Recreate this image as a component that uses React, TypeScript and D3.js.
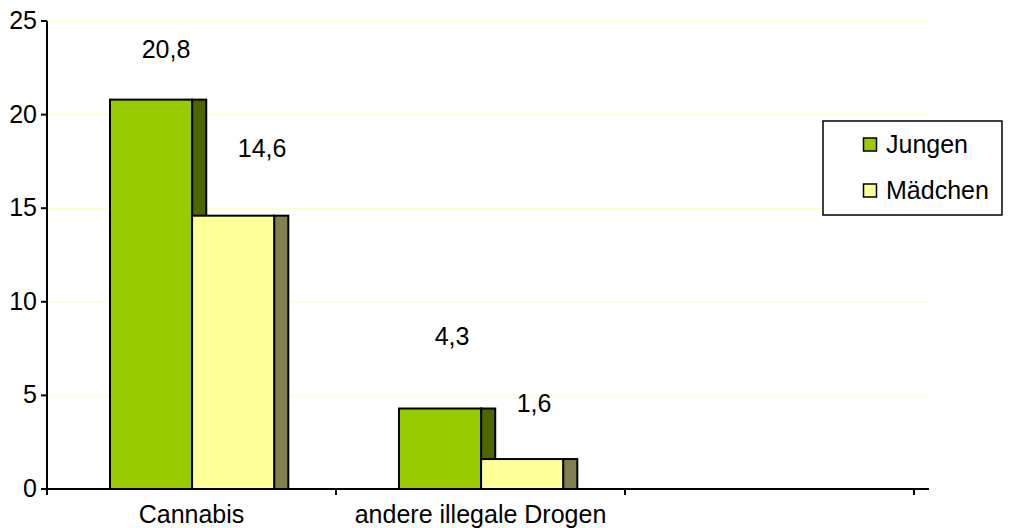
import React from "react";
import * as d3 from "d3";

// Lifetime prevalence of illegal drug use (%), by gender
const categories = ["Cannabis", "andere illegale Drogen", ""];
const seriesNames = ["Jungen", "Mädchen"];
const jungen = [20.8, 4.3];
const maedchen = [14.6, 1.6];
const valueLabels = [["20,8", "14,6"], ["4,3", "1,6"]];
const yTicks = [0, 5, 10, 15, 20, 25];

const W = 1015;
const H = 528;
const left = 47;
const top = 21;
const bottom = 489;
const bandEnd = 914;
const axisEnd = 929;

const FONT = "'Liberation Sans', Arial, sans-serif";
const FS = 25;

const faceColors = ["#99CC00", "#FFFF99"];
const sideColors = ["#4D6600", "#808050"];

// label nudges relative to the top-centre of each bar's front face
const labelNudge = [
  [{ dx: 15, dy: -42 }, { dx: 29, dy: -59 }],
  [{ dx: 12, dy: -64 }, { dx: 12, dy: -47 }],
];

function SText(props: { x: number; y: number; anchor?: string; children: React.ReactNode }) {
  return (
    <text
      x={props.x}
      y={props.y}
      textAnchor={props.anchor || "start"}
      fontFamily={FONT}
      fontSize={FS}
      fill="#000"
    >
      {props.children}
    </text>
  );
}

export default function App() {
  const x = d3.scaleBand<string>().domain(categories).range([left, bandEnd]).padding(0);
  const y = d3.scaleLinear().domain([0, 25]).range([bottom, top]);
  const bw = x.bandwidth();
  const offset = bw * 0.218;
  const faceW = bw * 0.284;
  const depth = bw * 0.049;

  const values = [jungen, maedchen];

  const bars: React.ReactNode[] = [];
  const labels: React.ReactNode[] = [];
  categories.slice(0, 2).forEach((cat, ci) => {
    const bx = (x(cat) as number) + offset;
    values.forEach((vals, si) => {
      const v = vals[ci];
      const fx = bx + si * faceW;
      const ty = y(v);
      bars.push(
        <g key={`${ci}-${si}`}>
          <rect x={fx + faceW} y={ty} width={depth} height={bottom - ty}
            fill={sideColors[si]} stroke="#000" strokeWidth={2} />
          <rect x={fx} y={ty} width={faceW} height={bottom - ty}
            fill={faceColors[si]} stroke="#000" strokeWidth={2} />
        </g>
      );
      const n = labelNudge[ci][si];
      labels.push(
        <SText key={`l${ci}-${si}`} x={fx + faceW / 2 + n.dx} y={ty + n.dy} anchor="middle">
          {valueLabels[ci][si]}
        </SText>
      );
    });
  });

  const catTicks = [left, ...categories.map((c) => (x(c) as number) + bw)];

  return (
    <svg width={W} height={H} style={{ position: "absolute", left: 0, top: 0, background: "#fff" }}>
      {/* gridlines */}
      {yTicks.filter((t) => t > 0).map((t) => (
        <line key={`g${t}`} x1={left} x2={axisEnd} y1={y(t)} y2={y(t)} stroke="#FFFFC8" strokeWidth={1.5} />
      ))}
      {bars}
      {labels}
      {/* y axis */}
      <line x1={left} x2={left} y1={top} y2={bottom} stroke="#000" strokeWidth={2} />
      {yTicks.map((t) => (
        <g key={`yt${t}`}>
          <line x1={left - 6} x2={left} y1={y(t)} y2={y(t)} stroke="#000" strokeWidth={2} />
          <SText x={37} y={y(t) + 8} anchor="end">{String(t)}</SText>
        </g>
      ))}
      {/* x axis */}
      <line x1={left} x2={axisEnd} y1={bottom} y2={bottom} stroke="#000" strokeWidth={2} />
      {catTicks.map((tx, i) => (
        <line key={`xt${i}`} x1={tx} x2={tx} y1={bottom} y2={bottom + 6} stroke="#000" strokeWidth={2} />
      ))}
      {categories.map((c) =>
        c ? (
          <SText key={`c${c}`} x={(x(c) as number) + bw / 2} y={523} anchor="middle">{c}</SText>
        ) : null
      )}
      {/* legend */}
      <rect x={823} y={121} width={179} height={94} fill="#fff" stroke="#000" strokeWidth={1.5} />
      {seriesNames.map((s, i) => (
        <g key={s}>
          <rect x={863.5} y={138 + i * 46} width={13} height={13} fill={faceColors[i]} stroke="#000" strokeWidth={1.5} />
          <SText x={886} y={153 + i * 46}>{s}</SText>
        </g>
      ))}
    </svg>
  );
}
